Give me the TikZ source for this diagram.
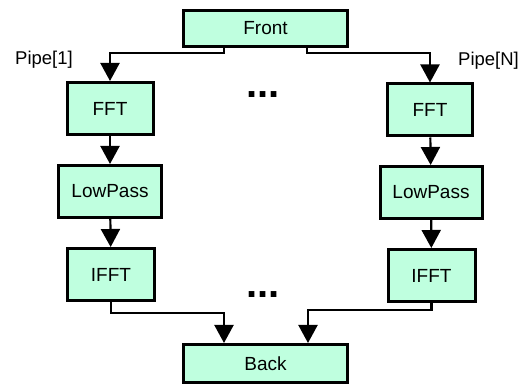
\documentclass[tikz,border=0pt]{standalone}
\usepackage{fontspec}
\setmainfont{Liberation Sans}
\usetikzlibrary{arrows.meta,calc}
\definecolor{mint}{RGB}{191,255,223}
\begin{document}
\begin{tikzpicture}[x=1pt,y=-1pt,
  box/.style={draw=black,fill=mint,line width=3pt,rectangle,inner sep=0pt,
    minimum height=52pt,font=\fontsize{19}{22}\selectfont},
  conn/.style={line width=2.2pt,-{Triangle[length=18pt,width=19pt]}},
  lbl/.style={font=\fontsize{18.5}{22}\selectfont,inner sep=0pt},
  dots/.style={font=\fontsize{40}{40}\selectfont\bfseries,inner sep=0pt,anchor=base west}]
\useasboundingbox (0,0) rectangle (525,387);
\node[box,minimum width=164pt,minimum height=36pt] (front) at (265.5,28.5) {Front};
\node[box,minimum width=86pt] (lfft) at (110,108.5) {FFT};
\node[box,minimum width=103pt] (llow) at (110,191.5) {LowPass};
\node[box,minimum width=87pt] (lifft) at (111,274.5) {IFFT};
\node[box,minimum width=85pt] (rfft) at (430,110) {FFT};
\node[box,minimum width=102pt] (rlow) at (431,192.5) {LowPass};
\node[box,minimum width=87pt] (rifft) at (431.5,275.5) {IFFT};
\node[box,minimum width=164pt,minimum height=38pt] (back) at (265.5,363.5) {Back};
\node[lbl,anchor=base west] (p1) at (15,65) {Pipe[1]};
\node[lbl,anchor=base west] (pn) at (458,66) {Pipe[N]};
\node[dots] (d1) at (246,98) {...};
\node[dots] (d2) at (246,298) {...};
\draw[conn] ($(front.south west)+(42,0)$) -- ++(0,5) -| (lfft.north);
\draw[conn] ($(front.south west)+(125,0)$) -- ++(0,5) -| (rfft.north);
\draw[conn] (lfft) -- (llow);
\draw[conn] (llow) -- (lifft);
\draw[conn] (rfft) -- (rlow);
\draw[conn] (rlow) -- (rifft);
\draw[conn] (lifft.south) -- ++(0,11) -| ($(back.north west)+(42,0)$);
\draw[conn] (rifft.south) -- ++(0,7) -| ($(back.north west)+(126,0)$);
\end{tikzpicture}
\end{document}
